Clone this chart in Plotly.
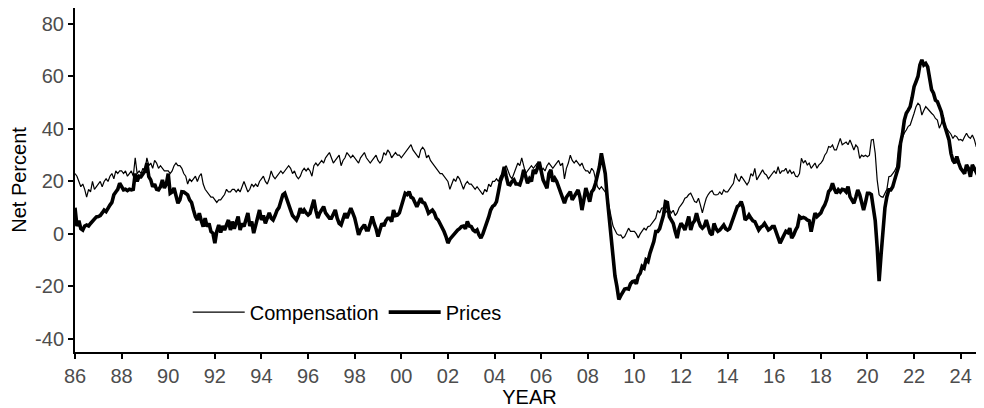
import plotly.graph_objects as go

start_year = 1986

# Monthly net percent, Jan 1986 .. Dec 2024 (one row per year)
compensation = [
    23, 22, 20, 18, 19, 17, 14, 17, 16, 20, 17, 18,          # 1986
    19, 20, 18, 20, 21, 20, 22, 23, 21, 24, 23, 24,          # 1987
    24, 23, 24, 22, 23, 24, 22, 29, 23, 24, 23, 25,          # 1988
    24, 29, 26, 27, 25, 28, 27, 25, 26, 25, 24, 24,          # 1989
    24, 23, 24, 26, 27, 26, 26, 25, 23, 22, 19, 21,          # 1990
    20, 21, 22, 20, 22, 23, 19, 17, 16, 15, 14, 14,          # 1991
    13, 12, 13, 13, 14, 15, 17, 16, 16, 17, 17, 16,          # 1992
    17, 16, 18, 20, 18, 16, 17, 19, 18, 19, 18, 20,          # 1993
    21, 22, 20, 19, 21, 24, 22, 21, 22, 23, 24, 23,          # 1994
    24, 25, 26, 25, 23, 24, 22, 21, 22, 24, 25, 24,          # 1995
    25, 24, 22, 26, 27, 26, 27, 28, 27, 29, 30, 31,          # 1996
    29, 27, 28, 29, 30, 26, 28, 29, 31, 30, 29, 30,          # 1997
    29, 28, 27, 29, 30, 31, 29, 28, 27, 28, 29, 30,          # 1998
    28, 27, 28, 31, 30, 32, 31, 29, 30, 31, 30, 30,          # 1999
    29, 30, 31, 32, 33, 34, 32, 31, 30, 29, 32, 33,          # 2000
    32, 29, 30, 28, 27, 26, 25, 24, 23, 23, 22, 21,          # 2001
    20, 17, 19, 21, 20, 22, 21, 19, 17, 19, 20, 19,          # 2002
    19, 18, 17, 18, 17, 16, 15, 17, 16, 19, 18, 20,          # 2003
    20, 21, 20, 22, 23, 25, 26, 24, 22, 21, 23, 25,          # 2004
    27, 26, 29, 26, 23, 24, 25, 26, 25, 26, 27, 25,          # 2005
    24, 25, 24, 26, 27, 26, 25, 26, 27, 28, 26, 27,          # 2006
    21, 25, 27, 30, 28, 27, 28, 27, 26, 27, 25, 24,          # 2007
    24, 23, 25, 24, 21, 18, 17, 18, 17, 16, 14, 10,          # 2008
    6, 3, 1.5, 0, -0.5, -0.4, -1.6, -1, 0.5, 2.2, 1, 0.9,    # 2009
    1, 0, -1.5, 0, 1, 2.2, 1.5, 2.8, 3, 4, 5.3, 6,           # 2010
    9, 8, 9.8, 10, 8, 9, 9.1, 8, 9, 7, 8, 10,                # 2011
    11, 12, 13.6, 14, 15, 15.5, 14, 12.3, 12, 13.6, 11, 8,   # 2012
    11, 13.6, 15, 16, 16.5, 15, 14.9, 15, 16, 15, 16.8, 16,  # 2013
    16, 17, 18, 19.3, 23, 21, 20, 22, 21, 20, 18.7, 20,      # 2014
    23, 22, 25, 20.6, 22, 23, 24.4, 23, 22.5, 21, 22, 23,    # 2015
    24, 23, 25.6, 23, 24, 24, 25, 23, 24.4, 23, 23.7, 22,    # 2016
    21.8, 23, 28.8, 27, 28, 26.3, 27, 25, 26, 27, 25, 26.3,  # 2017
    27, 28, 30, 31, 33.3, 33, 33.9, 32, 32, 34, 36.4, 34,    # 2018
    34.6, 35, 34, 35.8, 34, 32, 33.9, 33, 28.8, 30, 29.5, 30,  # 2019
    29.4, 30, 35.8, 36, 30.7, 20.6, 14.9, 14.2, 14, 15.5, 17, 21.8,  # 2020
    22, 23, 24, 25.6, 33.3, 35, 37, 38.5, 39.6, 41, 41.5, 43.4,      # 2021
    46, 48.5, 49.8, 49, 45.3, 47, 48.5, 47.7, 46.6, 46, 45.3, 44,    # 2022
    43.4, 40.3, 42, 45.3, 40.9, 40, 39, 38, 36.4, 37.5, 37, 35.8,    # 2023
    36, 35.5, 37, 38.4, 37, 36.4, 37.7, 36, 33.3, 33, 32.6, 32,      # 2024
]

prices = [
    10, 3, 5, 2, 1.5, 3, 3.4, 3, 4, 5, 5.5, 6.5,             # 1986
    6.6, 7, 8, 9.1, 8.5, 10, 11, 12, 14.9, 16, 17, 19.3,     # 1987
    18, 16.8, 17, 16.5, 17, 16.8, 17, 23, 20, 22, 21.8, 23,  # 1988
    24, 27, 21.8, 20.6, 18, 19, 17, 16.8, 18, 20.6, 17.5, 19,  # 1989
    23, 15.5, 16, 17.5, 14, 11.7, 13, 16.1, 16, 15.5, 14.9, 13,  # 1990
    12, 9.1, 6.6, 5.3, 7.9, 5, 2.8, 6, 2.8, 4, 0.9, 0.3,     # 1991
    -3.5, 1, 3.4, 0.5, 3, 1.5, 3.5, 5.3, 1.5, 4.7, 2, 5,     # 1992
    6.6, 1.5, 4, 2.8, 6, 8, 3, 4.7, 0.3, 3, 6, 9.1,          # 1993
    5.3, 7, 4, 5.7, 8, 6, 5.3, 7, 9, 10, 12, 14.9,           # 1994
    15.5, 13, 11, 9.1, 7, 6, 5.3, 7, 9.8, 8, 9.1, 8,         # 1995
    7.2, 7.9, 10, 13, 9, 6, 8, 9, 10.4, 8, 7, 6,             # 1996
    6, 8, 9.1, 6, 4, 3.4, 6, 7.9, 6, 8, 9.8, 8,              # 1997
    6.1, 3, -0.4, 1.5, 2.8, 3.5, 1.5, 1.5, 4, 6.6, 4, 2,     # 1998
    -1, 2, 4, 3, 5, 6, 6, 4.7, 9.1, 7, 7.2, 8,               # 1999
    10.4, 12, 15.5, 15, 16.1, 14, 13.6, 12, 10.4, 12, 13.6, 12,  # 2000
    11.7, 10, 7.9, 8.5, 9.1, 8, 6, 5.3, 4, 2, 0.9, -1,       # 2001
    -3.5, -2, -1, 0, 0.5, 1.5, 2, 2.8, 3, 2, 4.7, 3,         # 2002
    2.8, 1.5, 0.9, 1.5, -0.4, -1.6, 0, 2, 4, 6.5, 9.1, 10.5, # 2003
    11, 12.3, 16, 20, 22, 25.6, 22, 19, 18.7, 20, 20.6, 19,  # 2004
    19, 18.7, 21, 24.4, 22, 19.3, 21, 20, 24.4, 23, 25, 27.5,  # 2005
    24, 20.6, 19, 17.4, 23, 24.4, 20, 21.2, 20, 18, 16.1, 14,  # 2006
    11.7, 14, 15, 16.1, 13, 14.2, 16, 16.8, 14, 9.1, 13, 17.5, # 2007
    15, 12.3, 16, 17, 19.3, 22, 25.6, 30.7, 27, 23, 14, 6.6,   # 2008
    -4, -9, -16, -20, -25, -23.5, -22, -21, -20.8, -21, -19, -18.2,  # 2009
    -18, -19, -16, -15, -12.4, -13, -9.9, -10.5, -7.4, -5, -2.9, 0.9,  # 2010
    0.9, 2, 4.5, 7.2, 12.3, 12, 6.6, 5, 4, 1, -1.6, 2,       # 2011
    4, 3, 1.5, 4, 6.6, 1.5, 4, 5, 7.9, 5, 3, 2.2,            # 2012
    3, 5.3, 3, 0.3, -0.4, 4, 2, 1, 1.5, 2.5, 3.4, 2,         # 2013
    1.5, 2, 4, 6.6, 8, 10.4, 11, 12.3, 10, 5.3, 6, 7.2,      # 2014
    6, 5, 4.7, 3, 1.5, 2.5, 3, 4, 3, 1.5, 2, 2.8,            # 2015
    2.8, 1, -1, -3.5, -2, -0.4, 1, 0.5, 2.2, -1.6, -0.4, 1.5,  # 2016
    2.8, 6.6, 6, 6.3, 6, 5.3, 5, 0.9, 5, 7.9, 6.6, 7.5,      # 2017
    8, 9.8, 11, 13, 16.1, 17, 19.3, 17, 15.5, 16.8, 16, 17,  # 2018
    16.8, 16, 18, 14.2, 13, 11.7, 14, 16.8, 15, 11.7, 9.1, 12,  # 2019
    15.5, 15.5, 15, 10, 5, -5, -18, -8, 2.8, 10, 14.2, 16.8,    # 2020
    16.8, 18, 20.6, 23, 25.6, 34.5, 38, 43.4, 46, 47.2, 48.5, 52,  # 2021
    56.1, 58, 60, 64.4, 66.3, 64.4, 65, 63.7, 58.7, 55, 53.6, 51,  # 2022
    50.4, 48, 46.6, 43, 40.9, 38, 35.8, 30.7, 28, 27, 29.5, 27,    # 2023
    25, 24, 23, 26.3, 25, 21.8, 26.3, 25, 23.7, 22, 20.6, 21,      # 2024
]

tick_years = list(range(1986, 2025, 2))
tick_labels = ["86", "88", "90", "92", "94", "96", "98", "00", "02", "04",
               "06", "08", "10", "12", "14", "16", "18", "20", "22", "24"]
y_ticks = [-40, -20, 0, 20, 40, 60, 80]
y_labels = ["-40", "-20", "0", "20", "40", "60", "80"]

x = [start_year + i / 12 for i in range(len(prices))]

fig = go.Figure()
fig.add_trace(go.Scatter(x=x, y=compensation, mode="lines", name="Compensation",
                         line=dict(color="black", width=1.2)))
fig.add_trace(go.Scatter(x=x, y=prices, mode="lines", name="Prices",
                         line=dict(color="black", width=3.6)))

# page body has an 8px default margin, so the figure is sized 976x400
fig.update_layout(
    width=976, height=400,
    margin=dict(l=67, r=0, t=0, b=56, autoexpand=False),
    plot_bgcolor="white", paper_bgcolor="white",
    font=dict(family="Liberation Sans, Arial, sans-serif", size=20, color="black"),
    showlegend=True,
    legend=dict(orientation="h", x=0.124, y=0.116, xanchor="left", yanchor="middle",
                itemwidth=52, bgcolor="rgba(0,0,0,0)", font=dict(size=20, color="black")),
)
fig.update_xaxes(
    range=[1986, 2025], tickmode="array", tickvals=tick_years, ticktext=tick_labels,
    showline=True, linecolor="black", linewidth=2, mirror=False, automargin=False,
    ticks="outside", tickcolor="black", tickwidth=1.5, ticklen=5,
    tickfont=dict(color="#4d4d4d", size=20), showgrid=False, zeroline=False,
    title=dict(text="YEAR", font=dict(size=20, color="black"), standoff=4),
)
fig.update_yaxes(
    range=[-45, 86.1], tickmode="array", tickvals=y_ticks, ticktext=y_labels,
    showline=True, linecolor="black", linewidth=2, mirror=False, automargin=False,
    ticks="outside", tickcolor="black", tickwidth=1.5, ticklen=5,
    tickfont=dict(color="#4d4d4d", size=20), showgrid=False, zeroline=False,
    title=dict(text="Net Percent", font=dict(size=20, color="black"), standoff=10),
)

fig.write_html("out.html")
